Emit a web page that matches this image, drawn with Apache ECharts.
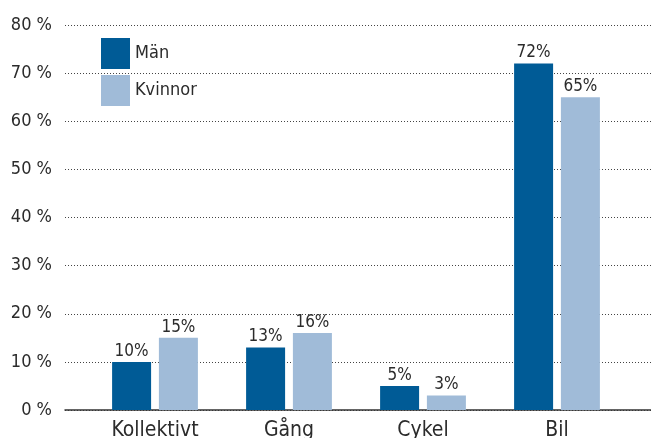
<!DOCTYPE html>
<html>
<head>
<meta charset="utf-8">
<script src="https://cdn.jsdelivr.net/npm/echarts@6/dist/echarts.min.js"></script>
<style>
  html, body { margin: 0; padding: 0; background: #fff; }
  #chart { width: 651px; height: 438px; }
</style>
</head>
<body>
<div id="chart"></div>
<script>
  // data
  const categories = ['Kollektivt', 'Gång', 'Cykel', 'Bil'];
  const man = [10, 13, 5, 72];
  const kvinnor = [15, 16, 3, 65];
  const yTicks = [0, 10, 20, 30, 40, 50, 60, 70, 80];

  const font = "'Liberation Sans Narrow', 'DejaVu Sans Condensed', sans-serif";
  const chart = echarts.init(document.getElementById('chart'));

  const barLabel = {
    show: true,
    position: 'top',
    distance: 2,
    formatter: p => p.value + '%',
    fontFamily: font,
    fontSize: 17,
    color: '#2b2b2b'
  };

  const option = {
    animation: false,
    textStyle: { fontFamily: font },
    legend: {
      orient: 'vertical',
      left: 96,
      top: 33,
      itemWidth: 29,
      itemHeight: 31,
      itemGap: 6,
      icon: 'rect',
      textStyle: { fontSize: 18, color: '#2b2b2b', fontFamily: font },
      data: ['Män', 'Kvinnor']
    },
    grid: [
      { left: 65, right: 0, top: 25, bottom: 28, outerBoundsMode: 'none' },
      { left: 88, right: 27, top: 25, bottom: 28, outerBoundsMode: 'none' }
    ],
    xAxis: [
      {
        gridIndex: 0,
        type: 'category',
        data: [''],
        axisLine: { show: true, lineStyle: { color: '#333', width: 1.5 } },
        axisTick: { show: false },
        axisLabel: { show: false }
      },
      {
        gridIndex: 1,
        type: 'category',
        data: categories,
        axisLine: { show: false },
        axisTick: { show: false },
        axisLabel: { fontSize: 21, color: '#2b2b2b', margin: 10, fontFamily: font }
      }
    ],
    yAxis: [
      {
        gridIndex: 0,
        type: 'value',
        min: 0,
        max: 80,
        interval: 10,
        axisLine: { show: false },
        axisTick: { show: false },
        axisLabel: {
          fontSize: 18,
          color: '#2b2b2b',
          margin: 13,
          fontFamily: font,
          formatter: v => yTicks.includes(v) ? v + ' %' : ''
        },
        splitLine: { show: true, lineStyle: { color: '#444', type: [1, 2], width: 1 } }
      },
      {
        gridIndex: 1,
        type: 'value',
        min: 0,
        max: 80,
        interval: 10,
        show: false,
        splitLine: { show: false }
      }
    ],
    series: [
      {
        name: 'Män',
        type: 'bar',
        xAxisIndex: 1,
        yAxisIndex: 1,
        data: man,
        barWidth: 39,
        barGap: '20%',
        itemStyle: { color: '#005b96' },
        label: barLabel
      },
      {
        name: 'Kvinnor',
        type: 'bar',
        xAxisIndex: 1,
        yAxisIndex: 1,
        data: kvinnor,
        barWidth: 39,
        itemStyle: { color: '#a0bbd8' },
        label: barLabel
      }
    ]
  };

  chart.setOption(option);
</script>
</body>
</html>
